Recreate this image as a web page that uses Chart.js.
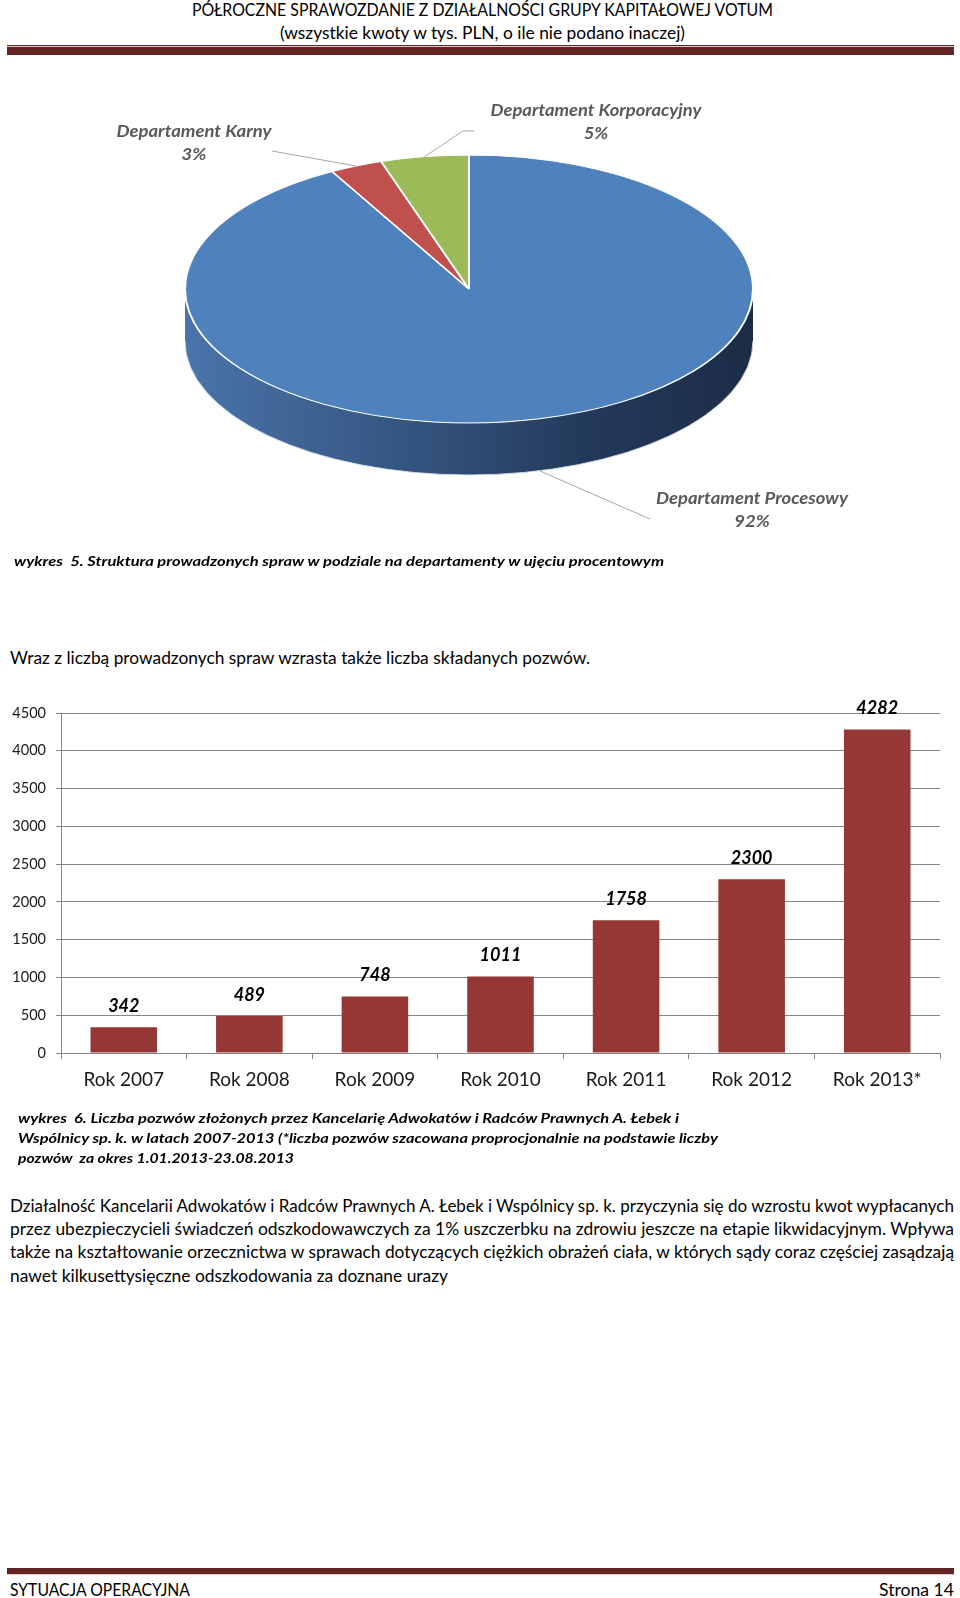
<!DOCTYPE html>
<html lang="pl">
<head>
<meta charset="utf-8">
<title>Votum – wykres 5 i 6</title>
<script src="https://cdn.jsdelivr.net/npm/chart.js@4.4.0/dist/chart.umd.min.js"></script>
<style>
  html, body { margin: 0; padding: 0; background: #fff; }
  body { width: 960px; height: 1598px; position: relative; overflow: hidden;
         font-family: Lato, "Open Sans", sans-serif; color: #000; }
  .t { position: absolute; white-space: pre; line-height: 20px; }
  .fit { display: inline-block; transform-origin: 0 50%; }
  .c { left: 2px; width: 960px; text-align: center; }
  .c .fit { transform-origin: 50% 50%; }
  .bi { font-weight: bold; font-style: italic; }
  .rule { position: absolute; left: 7px; width: 947px; }
  #pie { position: absolute; left: 0; top: 0; }
  #bars { position: absolute; left: 0; top: 680px; }
</style>
</head>
<body>

<div class="t c" style="top:0px;font-size:16.5px"><span class="fit" data-w="581">PÓŁROCZNE SPRAWOZDANIE Z DZIAŁALNOŚCI GRUPY KAPITAŁOWEJ VOTUM</span></div>
<div class="t c" style="top:23px;font-size:16.5px"><span class="fit" data-w="405">(wszystkie kwoty w tys. PLN, o ile nie podano inaczej)</span></div>
<div class="rule" style="top:45px;height:1px;background:#4a2a2a"></div>
<div class="rule" style="top:46px;height:1px;background:#e8c4c3"></div>
<div class="rule" style="top:47px;height:8px;background:#632523"></div>

<canvas id="pie" width="960" height="600"></canvas>

<div class="t bi" style="top:551px;left:14px;font-size:14px"><span class="fit" data-w="650">wykres  5. Struktura prowadzonych spraw w podziale na departamenty w ujęciu procentowym</span></div>

<div class="t" style="top:648px;left:10px;font-size:17px"><span class="fit" data-w="580">Wraz z liczbą prowadzonych spraw wzrasta także liczba składanych pozwów.</span></div>

<canvas id="bars" width="960" height="440"></canvas>

<div class="t bi" style="top:1108px;left:18px;font-size:14px"><span class="fit" data-w="661">wykres  6. Liczba pozwów złożonych przez Kancelarię Adwokatów i Radców Prawnych A. Łebek i</span></div>
<div class="t bi" style="top:1128px;left:18px;font-size:14px"><span class="fit" data-w="700">Wspólnicy sp. k. w latach 2007-2013 (*liczba pozwów szacowana proprocjonalnie na podstawie liczby</span></div>
<div class="t bi" style="top:1148px;left:18px;font-size:14px"><span class="fit" data-w="276">pozwów  za okres 1.01.2013-23.08.2013</span></div>

<div class="t" style="top:1196px;left:10px;font-size:17px"><span class="fit" data-w="944">Działalność Kancelarii Adwokatów i Radców Prawnych A. Łebek i Wspólnicy sp. k. przyczynia się do wzrostu kwot wypłacanych</span></div>
<div class="t" style="top:1219px;left:10px;font-size:17px"><span class="fit" data-w="944">przez ubezpieczycieli świadczeń odszkodowawczych za 1% uszczerbku na zdrowiu jeszcze na etapie likwidacyjnym. Wpływa</span></div>
<div class="t" style="top:1242px;left:10px;font-size:17px"><span class="fit" data-w="944">także na kształtowanie orzecznictwa w sprawach dotyczących ciężkich obrażeń ciała, w których sądy coraz częściej zasądzają</span></div>
<div class="t" style="top:1266px;left:10px;font-size:17px"><span class="fit" data-w="438">nawet kilkusettysięczne odszkodowania za doznane urazy</span></div>

<div class="rule" style="top:1568px;height:6px;background:#632523"></div>
<div class="rule" style="top:1574px;height:1px;background:#e8c4c3"></div>
<div class="t" style="top:1580px;left:10px;font-size:17px"><span class="fit" data-w="180">SYTUACJA OPERACYJNA</span></div>
<div class="t" style="top:1580px;left:879px;font-size:17px"><span class="fit" data-w="75">Strona 14</span></div>

<script>
// wykres 5 – struktura spraw (%)
const departamenty = ['Departament Procesowy', 'Departament Karny', 'Departament Korporacyjny'];
const udzialy = [92, 3, 5];

// wykres 6 – liczba pozwów
const lata = ['Rok 2007', 'Rok 2008', 'Rok 2009', 'Rok 2010', 'Rok 2011', 'Rok 2012', 'Rok 2013*'];
const pozwy = [342, 489, 748, 1011, 1758, 2300, 4282];
const osYmin = 0, osYmax = 4500, osYkrok = 500;

// dopasowanie szerokości tekstów HTML
document.querySelectorAll('.fit').forEach(el => {
  const w = el.getBoundingClientRect().width;
  el.style.transform = 'scaleX(' + (el.dataset.w / w) + ')';
});

function fitText(ctx, txt, x, y, scale) {
  ctx.save();
  ctx.translate(x, y);
  ctx.scale(scale, 1);
  ctx.fillText(txt, 0, 0);
  ctx.restore();
}

/* PIE 3D */
const SQUASH = 134 / 284;  // spłaszczenie elipsy
const DEPTH = 52;          // grubość bocznej ścianki
const pieColors = ['#4f81bd', '#c0504d', '#9bbb59'];
const sideColors = [null, '#8b3a38', '#738a42'];
const pieLabels = [
  { x: 752, y: 499, w: 192, leader: [[650, 519]] },
  { x: 194, y: 132, w: 155, leader: [[272, 151]] },
  { x: 596, y: 111, w: 211, leader: [[474, 131], [463, 131]] }
];

const pie3d = {
  id: 'pie3d',
  beforeDatasetsDraw(chart) {
    const ctx = chart.ctx;
    const arcs = chart.getDatasetMeta(0).data;
    const cx = arcs[0].x, cy = arcs[0].y, rx = arcs[0].outerRadius, ry = rx * SQUASH;

    const grad = ctx.createLinearGradient(cx - rx, 0, cx + rx, 0);
    grad.addColorStop(0, '#4a74ab');
    grad.addColorStop(0.4, '#34547f');
    grad.addColorStop(0.7, '#243a5c');
    grad.addColorStop(1, '#1c2c46');

    // boczna ścianka – tylko przednia połowa (0..PI)
    arcs.forEach((arc, i) => {
      [0, 2 * Math.PI].forEach(shift => {
        const a0 = Math.max(arc.startAngle, shift);
        const a1 = Math.min(arc.endAngle, shift + Math.PI);
        if (a1 <= a0) return;
        ctx.beginPath();
        ctx.ellipse(cx, cy, rx, ry, 0, a0, a1);
        ctx.ellipse(cx, cy + DEPTH, rx, ry, 0, a1, a0, true);
        ctx.closePath();
        ctx.fillStyle = sideColors[i] || grad;
        ctx.fill();
        ctx.beginPath();
        ctx.ellipse(cx, cy + DEPTH, rx, ry, 0, a0, a1);
        ctx.strokeStyle = 'rgba(215,225,240,0.9)';
        ctx.lineWidth = 1;
        ctx.stroke();
      });
    });

    // górna powierzchnia rysowana przez Chart.js w spłaszczonym układzie
    ctx.save();
    ctx.translate(cx, cy);
    ctx.scale(1, SQUASH);
    ctx.translate(-cx, -cy);
  },
  afterDatasetsDraw(chart) {
    const ctx = chart.ctx;
    ctx.restore();

    const arcs = chart.getDatasetMeta(0).data;
    const cx = arcs[0].x, cy = arcs[0].y, rx = arcs[0].outerRadius, ry = rx * SQUASH;

    ctx.save();
    ctx.strokeStyle = '#a6a6a6';
    ctx.lineWidth = 1;
    arcs.forEach((arc, i) => {
      const mid = (arc.startAngle + arc.endAngle) / 2;
      const px = cx + rx * Math.cos(mid);
      const py = cy + ry * Math.sin(mid) + (Math.sin(mid) > 0 ? DEPTH : 0);
      const pts = pieLabels[i].leader;
      ctx.beginPath();
      ctx.moveTo(pts[0][0], pts[0][1]);
      pts.slice(1).forEach(p => ctx.lineTo(p[0], p[1]));
      ctx.lineTo(px, py);
      ctx.stroke();
    });

    ctx.font = 'italic bold 17px Lato';
    ctx.fillStyle = '#595959';
    ctx.textAlign = 'center';
    ctx.textBaseline = 'middle';
    departamenty.forEach((name, i) => {
      const lab = pieLabels[i];
      const s = lab.w / ctx.measureText(name).width;
      fitText(ctx, name, lab.x, lab.y, s);
      fitText(ctx, udzialy[i] + '%', lab.x, lab.y + 23, s);
    });
    ctx.restore();
  }
};

new Chart(document.getElementById('pie'), {
  type: 'pie',
  data: {
    labels: departamenty,
    datasets: [{
      data: udzialy,
      backgroundColor: pieColors,
      borderColor: '#ffffff',
      borderWidth: 2,
      clip: false
    }]
  },
  options: {
    responsive: false,
    animation: false,
    events: [],
    radius: 284,
    layout: { padding: { left: 0, right: 22, top: 0, bottom: 22 } },
    plugins: { legend: { display: false }, tooltip: { enabled: false } }
  },
  plugins: [pie3d]
});

/* BAR CHART */
const barValueLabels = {
  id: 'barValueLabels',
  afterDatasetsDraw(chart) {
    const ctx = chart.ctx;
    const meta = chart.getDatasetMeta(0);
    ctx.save();
    ctx.font = 'italic bold 18px Lato';
    ctx.fillStyle = '#000';
    ctx.textAlign = 'center';
    ctx.textBaseline = 'middle';
    meta.data.forEach((bar, i) => {
      ctx.fillText(pozwy[i], bar.x, bar.y - 21);
    });
    ctx.restore();
  }
};

new Chart(document.getElementById('bars'), {
  type: 'bar',
  data: {
    labels: lata,
    datasets: [{
      data: pozwy,
      backgroundColor: '#953735',
      categoryPercentage: 1,
      barPercentage: 0.53
    }]
  },
  options: {
    responsive: false,
    animation: false,
    events: [],
    layout: { padding: { left: 0, right: 20, top: 33, bottom: 0 } },
    plugins: { legend: { display: false }, tooltip: { enabled: false } },
    scales: {
      x: {
        afterFit: s => { s.height = 67; },
        grid: { offset: true, drawOnChartArea: false, tickLength: 6, color: '#868686' },
        border: { color: '#868686' },
        ticks: { font: { family: 'Lato', size: 19 }, color: '#1a1a1a', padding: 9 }
      },
      y: {
        min: osYmin,
        max: osYmax,
        afterFit: s => { s.width = 61; },
        grid: { color: '#868686', tickLength: 5 },
        border: { color: '#868686' },
        ticks: {
          stepSize: osYkrok,
          callback: v => String(v),
          font: { family: 'Lato', size: 14.5 },
          color: '#1a1a1a',
          padding: 10
        }
      }
    }
  },
  plugins: [barValueLabels]
});
</script>
</body>
</html>
